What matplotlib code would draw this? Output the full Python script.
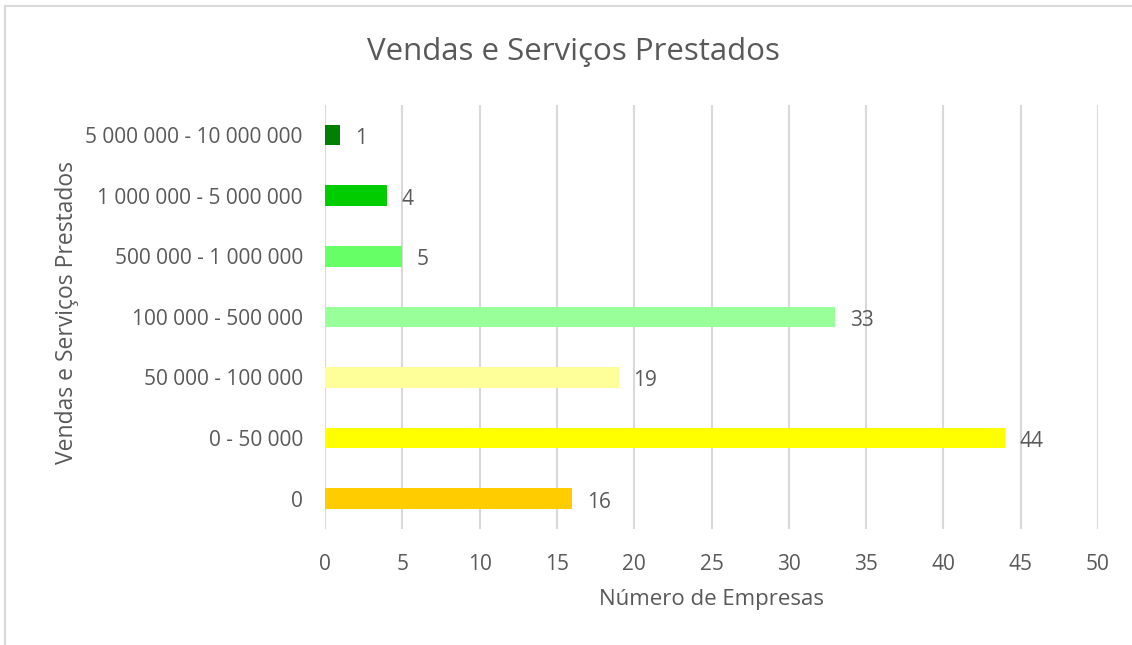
import matplotlib.pyplot as plt
from matplotlib.patches import Rectangle

categories = ["0", "0 - 50 000", "50 000 - 100 000", "100 000 - 500 000",
              "500 000 - 1 000 000", "1 000 000 - 5 000 000", "5 000 000 - 10 000 000"]
values = [16, 44, 19, 33, 5, 4, 1]
colors = ["#FFCC00", "#FFFF00", "#FFFF99", "#99FF99", "#66FF66", "#00CC00", "#008000"]

plt.rcParams['font.family'] = ['Open Sans', 'DejaVu Sans']
text_color = "#595959"

fig = plt.figure(figsize=(11.32, 6.45), dpi=100)
ax = fig.add_axes([0.2871, 0.1798, 0.6829, 0.658])

ax.barh(range(len(categories)), values, height=0.34, color=colors, zorder=3)
for i, v in enumerate(values):
    ax.annotate(str(v), (v, i), xytext=(10.5, -2.5), textcoords="offset points",
                va="center", ha="left", fontsize=15, color=text_color)

ax.set_xlim(0, 50)
ax.set_ylim(-0.5, len(categories) - 0.5)
ax.set_xticks(range(0, 51, 5))
ax.set_yticks(range(len(categories)))
ax.set_yticklabels(categories)
ax.tick_params(length=0, labelsize=15, colors=text_color)
ax.tick_params(axis="x", pad=18)
ax.tick_params(axis="y", pad=16)
ax.grid(axis="x", color="#d9d9d9", linewidth=1.5, zorder=0)
for s in ax.spines.values():
    s.set_visible(False)

ax.set_xlabel("Número de Empresas", fontsize=16, color=text_color)
ax.xaxis.set_label_coords(0.5, -0.142)
ax.set_ylabel("Vendas e Serviços Prestados", fontsize=16.5, color=text_color)
ax.yaxis.set_label_coords(-0.318, 0.51)
fig.text(573 / 1132, 1 - 52 / 645, "Vendas e Serviços Prestados", ha="center", va="center",
         fontsize=22.5, color=text_color)

fig.patches.append(Rectangle((5 / 1132, -0.1), 1.2, 1 - 6 / 645 + 0.1, transform=fig.transFigure,
                             fill=False, edgecolor="#d9d9d9", linewidth=1.5))

fig.savefig("out.png", dpi=100)
